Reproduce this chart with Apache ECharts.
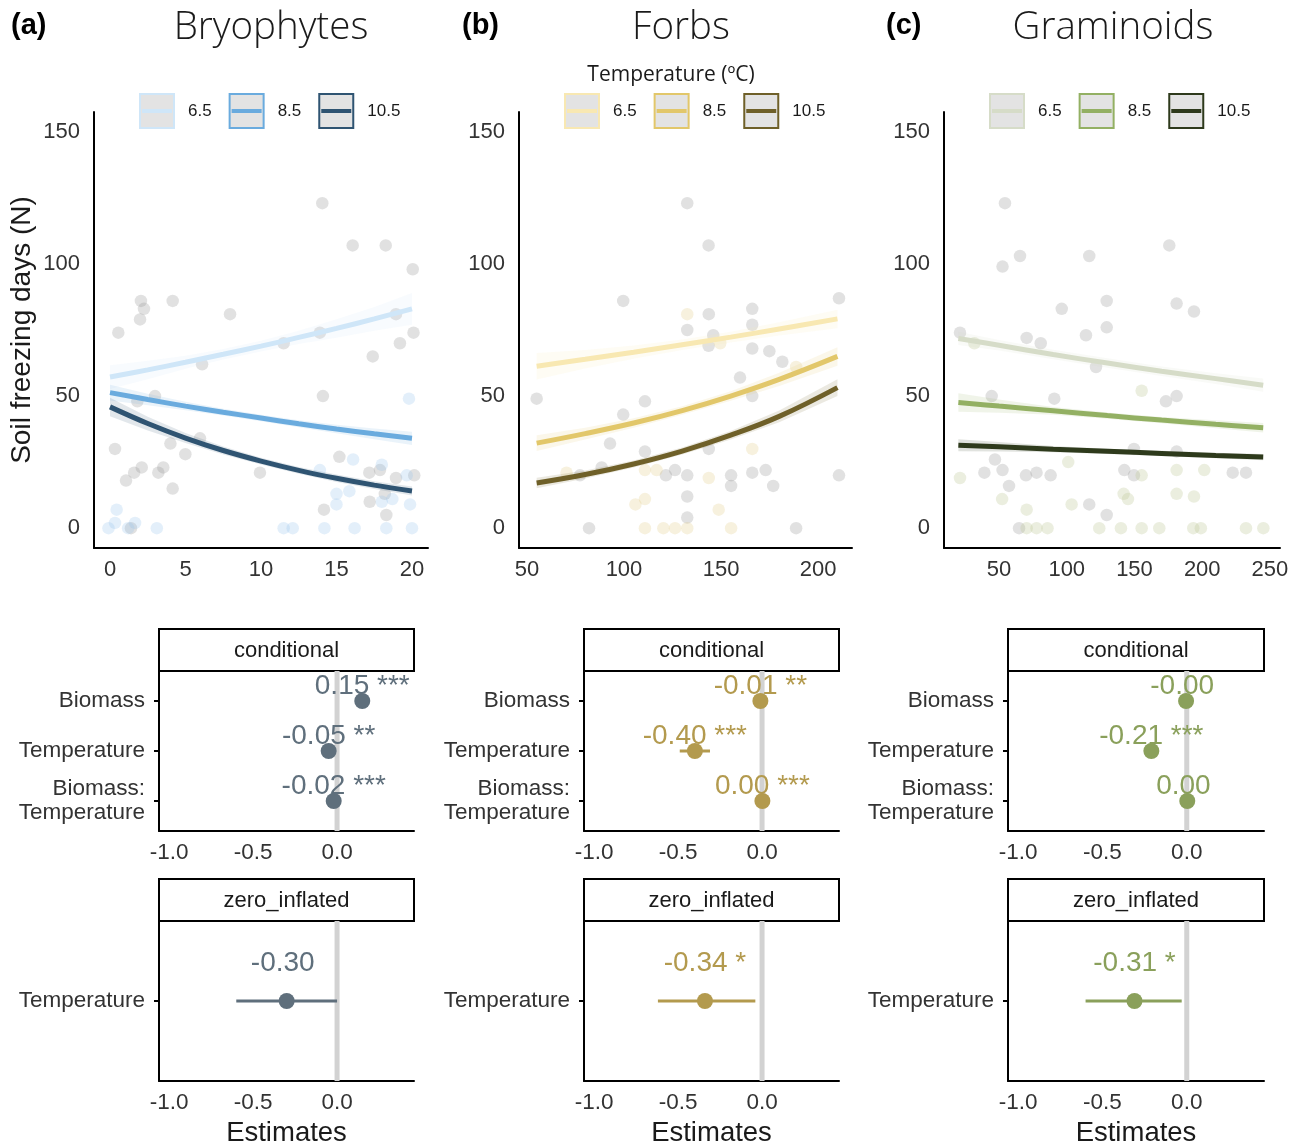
<!DOCTYPE html>
<html>
<head>
<meta charset="utf-8">
<script src="https://cdn.jsdelivr.net/npm/echarts@6/dist/echarts.min.js"></script>
<style>
  html, body { margin: 0; padding: 0; background: #ffffff; }
  #chart { width: 1297px; height: 1146px; }
</style>
</head>
<body>
<div id="chart"></div>
<script>
// ---------- data ----------
const groups = ['Bryophytes', 'Forbs', 'Graminoids'];
const panelTags = ['(a)', '(b)', '(c)'];
const tempLevels = ['6.5', '8.5', '10.5'];
const freezeTicks = [0, 50, 100, 150];
const bryoXTicks = [0, 5, 10, 15, 20];
const forbXTicks = [50, 100, 150, 200];
const gramXTicks = [50, 100, 150, 200, 250];
const estTicks = [-1.0, -0.5, 0.0];
const condTerms = ['Biomass', 'Temperature', 'Biomass:\nTemperature'];
const ziTerms = ['Temperature'];
const refLine = [0];

// Bryophytes: predicted soil freezing days vs biomass, per temperature
const bryoX = [0, 2.5, 5, 7.5, 10, 12.5, 15, 17.5, 20];
const bryoFit65 = [57.2, 59.9, 62.8, 65.8, 68.9, 72.2, 75.6, 79.2, 83.0];
const bryoFit85 = [51.3, 48.7, 46.2, 43.9, 41.7, 39.5, 37.5, 35.7, 34.0];
const bryoFit105 = [45.9, 39.6, 34.1, 29.4, 25.4, 21.9, 18.9, 16.3, 14.1];
const bryoCi65 = [4.5, 3.5, 2.5, 2.0, 2.0, 2.5, 3.5, 4.5, 6.0];
const bryoCi85 = [3.0, 2.2, 1.6, 1.3, 1.2, 1.3, 1.6, 2.0, 2.5];
const bryoCi105 = [3.5, 2.6, 1.9, 1.5, 1.3, 1.3, 1.4, 1.5, 1.7];
const bryoGrayPts = [[0.33,30],[0.55,74],[1.06,18],[1.6,21],[2.1,23],[2.05,86],[2.25,83],[1.99,79],[1.39,0],[2.98,50],[1.81,48],[3.2,21],[3.53,23],[4.0,32],[4.15,15],[4.15,86],[4.99,28],[5.96,34],[6.1,62],[7.95,81],[9.93,21],[11.5,70],[14.06,123],[13.9,74],[14.1,50],[16.07,107],[18.26,107],[20.05,98],[18.94,81],[20.1,74],[19.2,70],[17.4,65],[15.19,27],[17.17,21],[17.88,22],[18.94,19],[20.15,20],[17.2,10],[14.17,7],[18.3,5],[18.2,13]];
const bryoTintPts = [[-0.1,0],[0.33,2],[0.44,7],[1.66,2],[1.2,0],[3.1,0],[11.5,0],[12.1,0],[14.2,0],[16.2,0],[18.3,0],[20.0,0],[15.0,13],[15.0,9],[15.85,14],[16.1,26],[18.0,24],[18.0,10],[18.7,11],[19.8,49],[19.87,9],[19.65,20],[13.9,22]];

// Forbs
const forbX = [55, 80, 105, 130, 155, 180, 210];
const forbFit65 = [61.3, 63.9, 66.6, 69.4, 72.3, 75.4, 79.2];
const forbFit85 = [32.2, 35.8, 39.8, 44.5, 50.0, 56.3, 65.0];
const forbFit105 = [17.1, 20.3, 24.3, 29.2, 35.2, 42.3, 53.2];
const forbCi65 = [5.0, 3.5, 2.5, 2.0, 2.0, 2.5, 3.5];
const forbCi85 = [3.0, 2.2, 1.8, 1.6, 1.8, 2.5, 3.5];
const forbCi105 = [2.0, 1.5, 1.3, 1.3, 1.6, 2.2, 3.2];
const forbGrayPts = [[55.0,49],[132.6,123],[143.6,107],[99.6,86],[143.7,81],[166.1,83],[210.8,87],[132.6,75],[146.0,73],[166.1,77],[143.6,69],[166.1,68],[174.9,67],[181.6,63],[159.8,57],[166.1,50],[110.8,48],[99.6,43],[92.8,32],[110.8,29],[143.7,30],[88.5,23],[77.3,20],[121.6,20],[126.3,22],[132.6,20],[155.2,20],[166.1,21],[173.0,22],[210.8,20],[155.2,16],[176.9,16],[132.6,12],[132.6,4],[82.0,0],[188.7,0]];
const forbTintPts = [[132.6,81],[149.6,70],[188.7,61],[166.1,30],[70.4,21],[110.8,22],[116.8,22],[143.7,19],[110.8,11],[105.9,9],[148.8,7],[110.8,0],[120.3,0],[126.3,0],[132.6,0],[155.2,0]];

// Graminoids
const gramX = [20, 50, 90, 130, 170, 210, 245];
const gramFit65 = [71.8, 69.2, 65.7, 62.5, 59.4, 56.6, 54.1];
const gramFit85 = [47.6, 46.2, 44.4, 42.6, 40.9, 39.3, 38.0];
const gramFit105 = [31.4, 30.8, 29.9, 29.1, 28.3, 27.5, 26.9];
const gramCi65 = [2.5, 2.0, 1.8, 1.8, 1.8, 2.0, 2.5];
const gramCi85 = [3.5, 2.5, 1.5, 1.2, 1.2, 1.5, 1.8];
const gramCi105 = [2.3, 1.8, 1.2, 1.0, 1.0, 1.0, 1.2];
const gramGrayPts = [[21.2,74],[54.4,123],[65.5,103],[52.6,99],[116.6,103],[175.7,107],[96.3,83],[129.5,86],[181.1,85],[193.9,82],[129.5,76],[114.2,73],[70.4,72],[80.8,70],[121.6,61],[44.6,50],[90.8,49],[173.2,48],[181.1,50],[149.6,30],[181.1,29],[47.0,26],[39.2,21],[52.6,22],[69.9,20],[77.7,21],[88.1,20],[142.5,22],[149.6,20],[222.5,21],[232.3,21],[57.4,16],[116.6,9],[129.5,5],[64.8,0]];
const gramTintPts = [[31.8,70],[155.3,52],[21.2,19],[101.1,25],[155.3,20],[181.1,22],[201.5,22],[52.3,11],[70.4,7],[103.6,9],[142.0,13],[145.2,11],[181.1,13],[193.9,12],[70.4,0],[77.7,0],[85.8,0],[124,0],[140,0],[155.3,0],[168.3,0],[193.4,0],[199,0],[232.3,0],[245.1,0]];

// Model estimates: conditional (count) part and zero-inflated part
const bryoCondEst = [0.15, -0.05, -0.02];
const bryoCondLo = [0.13, -0.07, -0.03];
const bryoCondHi = [0.17, -0.03, -0.01];
const bryoCondStars = ['***', '**', '***'];
const bryoZiEst = [-0.30];
const bryoZiLo = [-0.60];
const bryoZiHi = [0.00];
const bryoZiStars = [''];

const forbCondEst = [-0.01, -0.40, 0.002];
const forbCondLo = [-0.02, -0.49, -0.005];
const forbCondHi = [0.00, -0.31, 0.008];
const forbCondStars = ['**', '***', '***'];
const forbZiEst = [-0.34];
const forbZiLo = [-0.62];
const forbZiHi = [-0.04];
const forbZiStars = ['*'];

const gramCondEst = [-0.004, -0.21, 0.003];
const gramCondLo = [-0.02, -0.24, -0.003];
const gramCondHi = [0.01, -0.18, 0.009];
const gramCondStars = ['', '***', ''];
const gramZiEst = [-0.31];
const gramZiLo = [-0.60];
const gramZiHi = [-0.03];
const gramZiStars = ['*'];

// ---------- styling & layout ----------
const SANS = '"Liberation Sans", Arial, sans-serif';
const LIGHT = '"Open Sans", sans-serif';
const lineColors = [
  ['#cfe6f8', '#6aabde', '#2f5472'],
  ['#f8e8b2', '#e2c76a', '#6f6029'],
  ['#d6dcc8', '#93b063', '#2e3a1c']
];
const coefColors = ['#5f6f7c', '#b39a4e', '#8aa05b'];
const tintColors = ['rgba(150,195,235,0.33)', 'rgba(225,200,130,0.33)', 'rgba(190,200,150,0.38)'];
const grayPointColor = 'rgba(150,150,150,0.36)';

const topLefts = [94, 519, 944];
const topWidths = [334, 333, 336];
const xExtents = [[-1.06, 21.06], [45.9, 217.5], [9.4, 257.4]];
const coefLefts = [159, 584, 1008];
const coefWidths = [255, 255, 256];
const titleCenters = [271, 681, 1113];
const tagLefts = [11, 462, 886];
const legendLefts = [139, 564, 989];

const panels = [
  { fitX: bryoX, fits: [bryoFit65, bryoFit85, bryoFit105], cis: [bryoCi65, bryoCi85, bryoCi105],
    gray: bryoGrayPts, tint: bryoTintPts, xTicks: bryoXTicks,
    cond: [bryoCondEst, bryoCondLo, bryoCondHi, bryoCondStars], zi: [bryoZiEst, bryoZiLo, bryoZiHi, bryoZiStars] },
  { fitX: forbX, fits: [forbFit65, forbFit85, forbFit105], cis: [forbCi65, forbCi85, forbCi105],
    gray: forbGrayPts, tint: forbTintPts, xTicks: forbXTicks,
    cond: [forbCondEst, forbCondLo, forbCondHi, forbCondStars], zi: [forbZiEst, forbZiLo, forbZiHi, forbZiStars] },
  { fitX: gramX, fits: [gramFit65, gramFit85, gramFit105], cis: [gramCi65, gramCi85, gramCi105],
    gray: gramGrayPts, tint: gramTintPts, xTicks: gramXTicks,
    cond: [gramCondEst, gramCondLo, gramCondHi, gramCondStars], zi: [gramZiEst, gramZiLo, gramZiHi, gramZiStars] }
];

const axisLineStyle = { show: true, onZero: false, lineStyle: { color: '#000', width: 2 } };
// legend key: grey square with a coloured frame and a coloured bar through the middle
const keyIcon = 'path://M0,0H34V34H0Z M3,16H31V18H3Z';

const grid = [], xAxis = [], yAxis = [], series = [], legend = [], graphic = [];

function ribbon(gi, xs, fit, ci, color) {
  return {
    type: 'custom', xAxisIndex: gi, yAxisIndex: gi, silent: true, z: 2,
    data: xs.map((x, i) => [x, fit[i] - ci[i], fit[i] + ci[i]]),
    encode: { x: 0, y: [1, 2] },
    renderItem(params, api) {
      if (params.dataIndex !== 0) return null;
      const upper = xs.map((x, i) => api.coord([x, fit[i] + ci[i]]));
      const lower = xs.map((x, i) => api.coord([x, fit[i] - ci[i]])).reverse();
      return { type: 'polygon', shape: { points: upper.concat(lower) }, style: { fill: color, opacity: 0.14 } };
    }
  };
}

function coefPanel(p, top, terms, est, lo, hi, stars, labelLift, withName) {
  const gi = grid.length;
  const n = terms.length;
  grid.push({ left: coefLefts[p], top: top, width: coefWidths[p], height: 160, outerBoundsMode: 'none' });
  xAxis.push({
    type: 'value', gridIndex: gi, min: -1.06, max: 0.458,
    axisLine: axisLineStyle, axisTick: { show: false }, splitLine: { show: false },
    axisLabel: { customValues: estTicks, formatter: v => v.toFixed(1), fontSize: 22.5, color: '#333', margin: 10, fontFamily: SANS },
    name: withName ? 'Estimates' : '', nameLocation: 'middle', nameGap: 38,
    nameTextStyle: { fontSize: 27.5, color: '#1a1a1a', fontFamily: SANS }
  });
  const termIdx = terms.map((_, i) => i + 1);
  yAxis.push({
    type: 'value', gridIndex: gi, min: 0.4, max: n + 0.6, inverse: true,
    axisLine: axisLineStyle, splitLine: { show: false },
    axisTick: { show: true, customValues: termIdx, length: 5, lineStyle: { color: '#000', width: 2 } },
    axisLabel: { customValues: termIdx, formatter: v => terms[Math.round(v) - 1], fontSize: 22.5, lineHeight: 24,
      color: '#333', margin: 14, align: 'right', fontFamily: SANS }
  });
  const color = coefColors[p];
  series.push({
    type: 'custom', xAxisIndex: gi, yAxisIndex: gi, silent: true, z: 1,
    data: refLine.map(v => [v, 1]), encode: { x: 0, y: 1 },
    renderItem(params, api) {
      const c = params.coordSys;
      const x = api.coord([api.value(0), 1])[0];
      return { type: 'line', shape: { x1: x, y1: c.y, x2: x, y2: c.y + c.height }, style: { stroke: '#d2d2d2', lineWidth: 5 } };
    }
  });
  series.push({
    type: 'custom', xAxisIndex: gi, yAxisIndex: gi, silent: true, z: 3,
    data: est.map((_, i) => [lo[i], hi[i], i + 1]), encode: { x: [0, 1], y: 2 },
    renderItem(params, api) {
      const a = api.coord([api.value(0), api.value(2)]);
      const b = api.coord([api.value(1), api.value(2)]);
      return { type: 'line', shape: { x1: a[0], y1: a[1], x2: b[0], y2: b[1] }, style: { stroke: color, lineWidth: 3 } };
    }
  });
  series.push({
    type: 'scatter', xAxisIndex: gi, yAxisIndex: gi, silent: true, z: 5,
    data: est.map((e, i) => [e, i + 1]), symbolSize: 16, itemStyle: { color: color, opacity: 1 },
    label: {
      show: true, position: 'inside', offset: [0, -labelLift],
      formatter: ({ dataIndex }) => est[dataIndex].toFixed(2) + ' ' + stars[dataIndex],
      fontSize: 28, color: color, textBorderWidth: 0, fontFamily: SANS
    }
  });
  return gi;
}

panels.forEach((P, p) => {
  // scatter + fitted curves
  const gi = grid.length;
  grid.push({ left: topLefts[p], top: 112, width: topWidths[p], height: 436, outerBoundsMode: 'none' });
  xAxis.push({
    type: 'value', gridIndex: gi, min: xExtents[p][0], max: xExtents[p][1],
    axisLine: axisLineStyle, axisTick: { show: false }, splitLine: { show: false },
    axisLabel: { customValues: P.xTicks, fontSize: 22, color: '#333', margin: 11, fontFamily: SANS }
  });
  yAxis.push({
    type: 'value', gridIndex: gi, min: -7.5, max: 157.5,
    axisLine: axisLineStyle, axisTick: { show: false }, splitLine: { show: false },
    axisLabel: { customValues: freezeTicks, fontSize: 22, color: '#333', margin: 14, fontFamily: SANS },
    name: p === 0 ? 'Soil freezing days (N)' : '', nameLocation: 'middle', nameRotate: 90, nameGap: 58,
    nameTextStyle: { fontSize: 28, color: '#1a1a1a', fontFamily: SANS }
  });
  series.push({ type: 'scatter', xAxisIndex: gi, yAxisIndex: gi, silent: true, z: 1,
    data: P.gray, symbolSize: 12.5, itemStyle: { color: grayPointColor } });
  series.push({ type: 'scatter', xAxisIndex: gi, yAxisIndex: gi, silent: true, z: 1,
    data: P.tint, symbolSize: 12.5, itemStyle: { color: tintColors[p] } });
  tempLevels.forEach((t, k) => {
    series.push(ribbon(gi, P.fitX, P.fits[k], P.cis[k], lineColors[p][k]));
  });
  tempLevels.forEach((t, k) => {
    series.push({
      type: 'line', name: t, xAxisIndex: gi, yAxisIndex: gi, silent: true, z: 4,
      data: P.fitX.map((x, i) => [x, P.fits[k][i]]),
      smooth: 0.4, symbol: 'none', showSymbol: false,
      lineStyle: { color: lineColors[p][k], width: 5 }, itemStyle: { color: lineColors[p][k] }
    });
  });
  legend.push({
    left: legendLefts[p], top: 93, orient: 'horizontal', padding: 0,
    itemWidth: 34, itemHeight: 34, itemGap: 17, selectedMode: false, icon: keyIcon,
    textStyle: { fontSize: 17, color: '#1a1a1a', padding: [0, 0, 0, 9], fontFamily: SANS },
    data: tempLevels.map((t, k) => ({ name: t, itemStyle: { color: '#e3e3e3', borderColor: lineColors[p][k], borderWidth: 2 } }))
  });

  // coefficient panels
  coefPanel(p, 671, condTerms, P.cond[0], P.cond[1], P.cond[2], P.cond[3], 15, false);
  coefPanel(p, 921, ziTerms, P.zi[0], P.zi[1], P.zi[2], P.zi[3], 38, true);

  // facet strips
  [[629, 'conditional'], [879, 'zero_inflated']].forEach(([y, label]) => {
    graphic.push({ type: 'rect', silent: true, shape: { x: coefLefts[p], y: y, width: coefWidths[p], height: 42 },
      style: { fill: '#ffffff', stroke: '#000000', lineWidth: 2 } });
    graphic.push({ type: 'text', silent: true, x: coefLefts[p] + coefWidths[p] / 2, y: y + 22,
      style: { text: label, fontSize: 22, fill: '#1a1a1a', align: 'center', verticalAlign: 'middle', fontFamily: SANS } });
  });

  // panel headings
  graphic.push({ type: 'text', silent: true, x: titleCenters[p], y: 28,
    style: { text: groups[p], fontSize: 38.5, fontWeight: 300, fill: '#1a1a1a', align: 'center', verticalAlign: 'middle', fontFamily: LIGHT } });
  graphic.push({ type: 'text', silent: true, x: tagLefts[p], y: 26,
    style: { text: panelTags[p], fontSize: 29, fontWeight: 'bold', fill: '#000', align: 'left', verticalAlign: 'middle', fontFamily: SANS } });
});

graphic.push({ type: 'text', silent: true, x: 671, y: 75,
  style: { text: 'Temperature (ºC)', fontSize: 21, fill: '#1a1a1a', align: 'center', verticalAlign: 'middle', fontFamily: LIGHT } });

const chart = echarts.init(document.getElementById('chart'), null, { renderer: 'canvas' });
chart.setOption({
  animation: false,
  backgroundColor: '#ffffff',
  grid, xAxis, yAxis, series, legend, graphic
});
</script>
</body>
</html>
